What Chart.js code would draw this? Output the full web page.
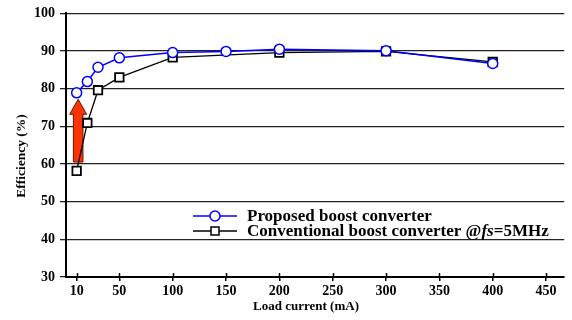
<!DOCTYPE html>
<html>
<head>
<meta charset="utf-8">
<script src="https://cdn.jsdelivr.net/npm/chart.js@4"></script>
<style>
  html, body { margin: 0; padding: 0; background: #fff; }
  canvas { display: block; }
</style>
</head>
<body>
<canvas id="chart" width="572" height="320"></canvas>
<script>
// load current (mA)
const loadProposed = [10, 20, 30, 50, 100, 150, 200, 300, 400];
const effProposed = [78.9, 81.9, 85.7, 88.2, 89.6, 89.9, 90.5, 90.1, 86.7];

const loadConventional = [10, 20, 30, 50, 100, 200, 300, 400];
const effConventional = [58.2, 70.9, 79.6, 83.0, 88.3, 89.6, 89.9, 87.1];

const xTicks = [10, 50, 100, 150, 200, 250, 300, 350, 400, 450];
const yTicks = [30, 40, 50, 60, 70, 80, 90, 100];

// red arrow at the low-load end (efficiency gain)
const arrowLoad = 10;
const arrowFrom = 60;
const arrowTo = 77.2;

const labelProposed = "Proposed boost converter";
const labelConventional = "Conventional boost converter @fs=5MHz";

const serif = "'Liberation Serif', 'Times New Roman', serif";

const toPoints = (xs, ys) => xs.map((x, i) => ({ x: x, y: ys[i] }));

// arrow, drawn behind the lines
const arrowPlugin = {
    id: "arrow",
    beforeDatasetsDraw(chart) {
        const { ctx, scales } = chart;
        const x = scales.x.getPixelForValue(arrowLoad) + 1.5;
        const yBottom = scales.y.getPixelForValue(arrowFrom) - 2;
        const yTip = scales.y.getPixelForValue(arrowTo);
        const headH = 15, headW = 8.5, shaftW = 4.8;
        ctx.save();
        ctx.beginPath();
        ctx.moveTo(x, yTip);
        ctx.lineTo(x + headW, yTip + headH);
        ctx.lineTo(x + shaftW, yTip + headH);
        ctx.lineTo(x + shaftW, yBottom);
        ctx.lineTo(x - shaftW, yBottom);
        ctx.lineTo(x - shaftW, yTip + headH);
        ctx.lineTo(x - headW, yTip + headH);
        ctx.closePath();
        ctx.fillStyle = "#ff3300";
        ctx.fill();
        ctx.lineWidth = 1;
        ctx.strokeStyle = "#5a1a00";
        ctx.stroke();
        ctx.restore();
    }
};

// inner half of the x tick marks, axis titles and the legend
const decorPlugin = {
    id: "decor",
    afterDraw(chart) {
        const { ctx, scales, chartArea } = chart;
        ctx.save();

        ctx.strokeStyle = "#000";
        ctx.lineWidth = 1.5;
        xTicks.forEach(v => {
            const px = Math.round(scales.x.getPixelForValue(v)) + 0.5;
            ctx.beginPath();
            ctx.moveTo(px, chartArea.bottom);
            ctx.lineTo(px, chartArea.bottom - 4);
            ctx.stroke();
        });

        ctx.fillStyle = "#000";
        ctx.font = "bold 13px " + serif;
        ctx.textAlign = "center";
        ctx.textBaseline = "middle";
        ctx.fillText("Load current (mA)", 306, 307);

        ctx.save();
        ctx.translate(22, 156);
        ctx.rotate(-Math.PI / 2);
        ctx.font = "bold 13.5px " + serif;
        ctx.fillText("Efficiency (%)", 0, 0);
        ctx.restore();

        // legend
        const rows = [
            { y: 216, color: "#0000ff", style: "circle", label: labelProposed },
            { y: 231, color: "#000000", style: "rect", label: labelConventional }
        ];
        ctx.textAlign = "left";
        rows.forEach(r => {
            ctx.strokeStyle = r.color;
            ctx.lineWidth = 1.5;
            ctx.beginPath();
            ctx.moveTo(193, r.y);
            ctx.lineTo(237, r.y);
            ctx.stroke();
            ctx.fillStyle = "#fff";
            ctx.beginPath();
            if (r.style === "circle") {
                ctx.arc(215, r.y, 5, 0, Math.PI * 2);
            } else {
                ctx.rect(211, r.y - 4, 8, 8);
            }
            ctx.fill();
            ctx.stroke();

            // "fs" in italics
            ctx.fillStyle = "#000";
            let x = 247;
            r.label.split(/(fs)/).forEach(part => {
                if (!part) return;
                ctx.font = (part === "fs" ? "italic bold 17px " : "bold 17px ") + serif;
                ctx.fillText(part, x, r.y + 1);
                x += ctx.measureText(part).width;
            });
        });
        ctx.restore();
    }
};

const ctx = document.getElementById("chart").getContext("2d");
new Chart(ctx, {
    type: "line",
    data: {
        datasets: [
            {
                label: labelProposed,
                data: toPoints(loadProposed, effProposed),
                borderColor: "#0000ff",
                borderWidth: 1.5,
                pointStyle: "circle",
                pointRadius: 5,
                pointBorderWidth: 1.5,
                pointBackgroundColor: "#fff",
                pointBorderColor: "#0000ff",
                tension: 0
            },
            {
                label: labelConventional,
                data: toPoints(loadConventional, effConventional),
                borderColor: "#000",
                borderWidth: 1.3,
                pointStyle: "rect",
                pointRadius: 6,
                pointBorderWidth: 1.8,
                pointBackgroundColor: "#fff",
                pointBorderColor: "#000",
                tension: 0
            }
        ]
    },
    options: {
        responsive: false,
        animation: false,
        layout: { padding: { top: 10, right: 0, bottom: 0, left: 0 } },
        plugins: {
            legend: { display: false },
            tooltip: { enabled: false }
        },
        scales: {
            x: {
                type: "linear",
                min: 0,
                max: 467,
                afterBuildTicks: scale => {
                    scale.ticks = xTicks.map(v => ({ value: v }));
                },
                afterFit: scale => { scale.height = 43; },
                ticks: {
                    color: "#000",
                    font: { family: serif, size: 14, weight: "bold" },
                    padding: 2,
                    maxRotation: 0,
                    autoSkip: false
                },
                grid: {
                    drawOnChartArea: false,
                    color: "#000",
                    lineWidth: 1.5,
                    tickLength: 4
                },
                border: { color: "#000", width: 2 }
            },
            y: {
                min: 30,
                max: 100,
                afterBuildTicks: scale => {
                    scale.ticks = yTicks.map(v => ({ value: v }));
                },
                afterFit: scale => { scale.width = 66; },
                ticks: {
                    color: "#000",
                    font: { family: serif, size: 14, weight: "bold" },
                    padding: 5
                },
                grid: {
                    color: "#222",
                    lineWidth: 1.3,
                    tickLength: 6
                },
                border: { color: "#000", width: 2 }
            }
        }
    },
    plugins: [arrowPlugin, decorPlugin]
});
</script>
</body>
</html>
